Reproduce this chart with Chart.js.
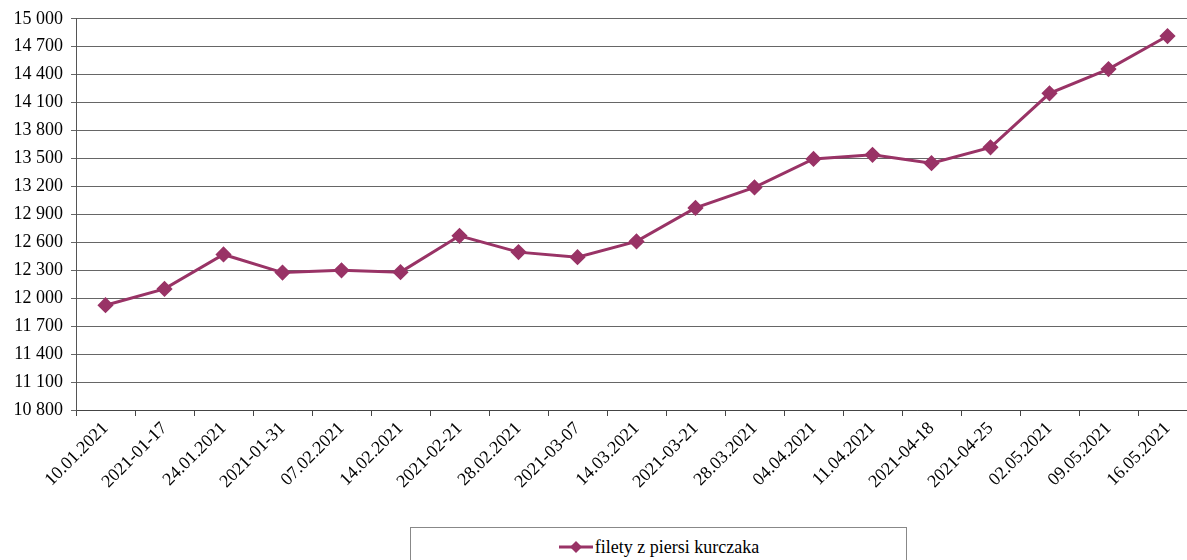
<!DOCTYPE html>
<html>
<head>
<meta charset="utf-8">
<script src="https://cdn.jsdelivr.net/npm/chart.js@4.4.0/dist/chart.umd.min.js"></script>
<style>
  html, body { margin: 0; padding: 0; background: #fff; overflow: hidden; }
  #wrap { position: relative; width: 1206px; height: 560px; overflow: hidden; }
  #box { position: absolute; left: 0; top: 0; width: 1206px; height: 505px; }
  #legend {
    position: absolute; left: 410px; top: 527px; width: 497px; height: 60px;
    border: 1px solid #888; box-sizing: border-box;
    font-family: "Liberation Serif", serif; font-size: 18px; color: #000;
    text-align: center; padding-top: 9px;
  }
  #legend svg { vertical-align: -1px; margin-right: 1px; }
</style>
</head>
<body>
<div id="wrap">
  <div id="box"><canvas id="chart"></canvas></div>
  <div id="legend"></div>
</div>
<script>
// dane
const labels = ['10.01.2021', '2021-01-17', '24.01.2021', '2021-01-31', '07.02.2021', '14.02.2021',
  '2021-02-21', '28.02.2021', '2021-03-07', '14.03.2021', '2021-03-21', '28.03.2021',
  '04.04.2021', '11.04.2021', '2021-04-18', '2021-04-25', '02.05.2021', '09.05.2021', '16.05.2021'];
const seriesName = 'filety z piersi kurczaka';
const values = [11925, 12100, 12470, 12275, 12300, 12280, 12670, 12495, 12440, 12610,
  12970, 13190, 13495, 13540, 13450, 13620, 14200, 14460, 14815];
const yMin = 10800, yMax = 15000, yStep = 300;

const lineColor = '#993366';
const fmt = v => String(v).replace(/\B(?=(\d{3})+(?!\d))/g, ' ');

new Chart(document.getElementById('chart'), {
  type: 'line',
  data: {
    labels: labels,
    datasets: [{
      label: seriesName,
      data: values,
      borderColor: lineColor,
      backgroundColor: lineColor,
      borderWidth: 3,
      pointStyle: 'rectRot',
      pointRadius: 6,
      pointHoverRadius: 6,
      tension: 0
    }]
  },
  options: {
    responsive: true,
    maintainAspectRatio: false,
    devicePixelRatio: 1,
    animation: false,
    layout: { padding: { top: 11, right: 0, bottom: 0, left: 0 } },
    plugins: { legend: { display: false }, tooltip: { enabled: false } },
    scales: {
      x: {
        offset: true,
        afterFit: s => { s.height = 95; },
        grid: { offset: true, drawOnChartArea: false, color: '#444', tickLength: 6 },
        border: { color: '#444', width: 1 },
        ticks: {
          color: '#000', minRotation: 45, maxRotation: 45, autoSkip: false, padding: 2,
          font: { family: 'Liberation Serif', size: 18 }
        }
      },
      y: {
        min: yMin, max: yMax,
        afterFit: s => { s.width = 76; },
        grid: { color: '#666', tickLength: 5 },
        border: { color: '#555', width: 1 },
        ticks: {
          stepSize: yStep, color: '#000', padding: 8,
          font: { family: 'Liberation Serif', size: 18 },
          callback: v => fmt(v)
        }
      }
    }
  }
});

// legenda
document.getElementById('legend').innerHTML =
  '<svg width="36" height="14"><line x1="1" y1="7" x2="35" y2="7" stroke="' + lineColor +
  '" stroke-width="3"/><polygon points="18,1 24,7 18,13 12,7" fill="' + lineColor + '"/></svg>' + seriesName;
</script>
</body>
</html>
